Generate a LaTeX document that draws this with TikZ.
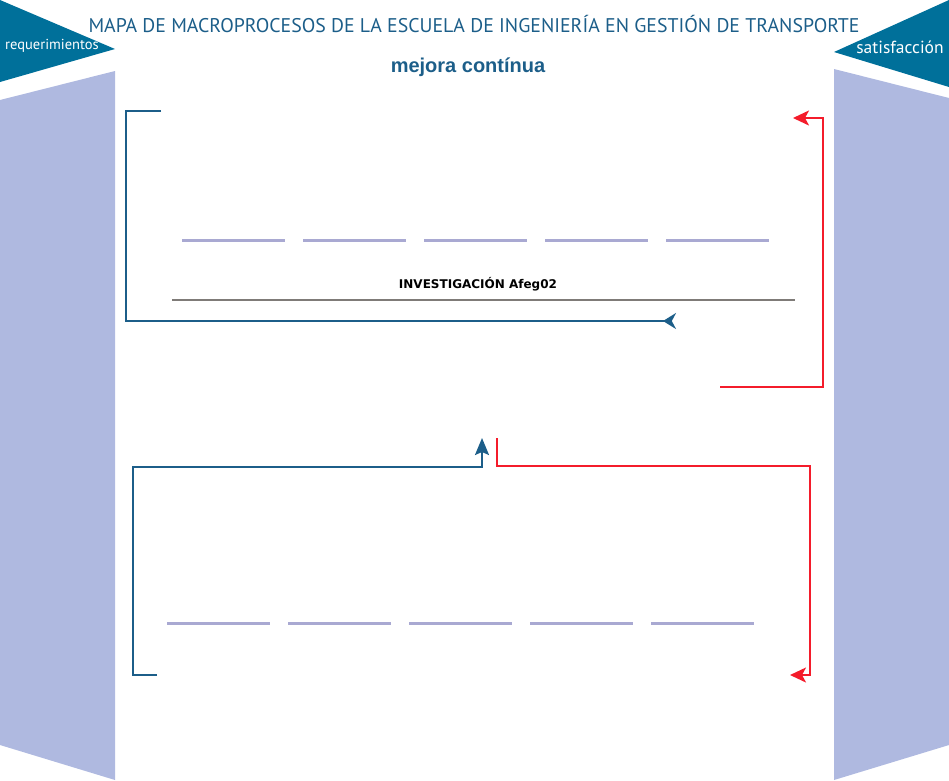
\documentclass[tikz,border=0pt]{standalone}
\usepackage{fontspec}
\setmainfont{PT Sans}
\newfontfamily\arialfont{Liberation Sans}
\newfontfamily\widefont{DejaVu Sans}
\usepackage{tikz}
\usetikzlibrary{arrows.meta}

\definecolor{mapteal}{HTML}{00709A}
\definecolor{maplav}{HTML}{AFB9E0}
\definecolor{mapdash}{HTML}{A9A9D2}
\definecolor{mapblue}{HTML}{1C5E89}
\definecolor{mapred}{HTML}{F41C2B}
\definecolor{mapgray}{HTML}{7F7B78}

\begin{document}
\begin{tikzpicture}[x=1pt, y=-1pt,
  maintitle/.style={inner sep=0pt, text=mapblue, font=\fontsize{19.8}{20}\selectfont},
  subtitle/.style={inner sep=0pt, text=mapblue, font=\arialfont\bfseries\fontsize{20}{21}\selectfont},
  sidelabel/.style={inner sep=0pt, text=white},
  band/.style={fill=maplav},
  flag/.style={fill=mapteal},
  bar/.style={draw=mapdash, line width=3pt},
  rule/.style={draw=mapgray, line width=2pt},
  flow/.style={draw=mapblue, line width=2pt, -{Stealth[length=17pt, width=14pt, inset=3pt]}},
  back/.style={draw=mapred, line width=2pt, -{Stealth[length=16pt, width=15pt, inset=4pt]}}
]
\useasboundingbox (0,0) rectangle (949,780);

\fill[flag] (0,0) -- (115,49) -- (0,82) -- cycle;
\fill[flag] (949,0) -- (834,52) -- (949,87) -- cycle;
\fill[band] (0,100) -- (115,71) -- (115,780) -- (0,745) -- cycle;
\fill[band] (834,69) -- (949,98) -- (949,745) -- (834,780) -- cycle;

\node[sidelabel, font=\fontsize{14.5}{15}\selectfont] (req) at (52,46) {requerimientos};
\node[sidelabel, font=\fontsize{17.5}{18}\selectfont] (sat) at (900,47) {satisfacción};

\node[maintitle] (title) at (474,24) {MAPA DE MACROPROCESOS DE LA ESCUELA DE INGENIERÍA EN GESTIÓN DE TRANSPORTE};
\node[subtitle] (mejora) at (468,67) {mejora contínua};

\foreach \x in {182,303,424,545,666} {
  \draw[bar] (\x,240) -- ++(103,0);
}
\foreach \x in {167,288,409,530,651} {
  \draw[bar] (\x,623) -- ++(103,0);
}

\node[inner sep=0pt, font=\widefont\bfseries\fontsize{12}{13}\selectfont] (invest) at (478,284) {INVESTIGACIÓN Afeg02};
\draw[rule] (172,300) -- (795,300);

\coordinate (topIn) at (161,111);
\coordinate (topOut) at (676,321);
\coordinate (botIn) at (157,675);
\coordinate (upTip) at (482,438);
\coordinate (redIn) at (720,387);
\coordinate (redTip) at (793,118);
\coordinate (red2In) at (497,438);
\coordinate (red2Tip) at (790,675);

\draw[flow, -{Stealth[reversed, length=13pt, width=16pt]}] (topIn) -- ++(-35,0) |- (topOut);
\draw[flow] (botIn) -- ++(-24,0) |- ++(349,-208) -- (upTip);
\draw[back] (redIn) -- ++(103,0) |- (redTip);
\draw[back] (red2In) |- ++(313,28) |- (red2Tip);
\end{tikzpicture}
\end{document}
